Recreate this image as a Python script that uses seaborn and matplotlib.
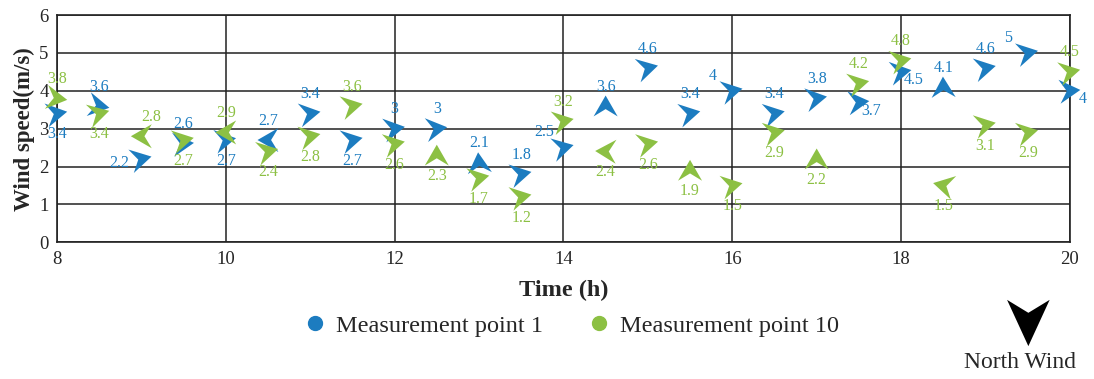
import numpy as np
import pandas as pd
import matplotlib
matplotlib.use("Agg")
import matplotlib.pyplot as plt
import seaborn as sns
from matplotlib.path import Path
from matplotlib.markers import MarkerStyle
from matplotlib.transforms import Affine2D
from matplotlib.lines import Line2D

# data
times = [8, 8.5, 9, 9.5, 10, 10.5, 11, 11.5, 12, 12.5, 13, 13.5, 14,
         14.5, 15, 15.5, 16, 16.5, 17, 17.5, 18, 18.5, 19, 19.5, 20]

p1_speed = [3.4, 3.6, 2.2, 2.6, 2.7, 2.7, 3.4, 2.7, 3.0, 3.0, 2.1, 1.8, 2.5,
            3.6, 4.6, 3.4, 4.0, 3.4, 3.8, 3.7, 4.5, 4.1, 4.6, 5.0, 4.0]
# direction the arrow points to, degrees counter-clockwise from east
p1_dir = [10, -10, 13, 5, 10, 180, 10, 12, 10, 8, 95, 12, 14,
          90, 14, 12, 12, 12, 10, 6, 10, 92, 12, 12, 5]

p10_speed = [3.8, 3.4, 2.8, 2.7, 2.9, 2.4, 2.8, 3.6, 2.6, 2.3, 1.7, 1.2, 3.2,
             2.4, 2.6, 1.9, 1.5, 2.9, 2.2, 4.2, 4.8, 1.5, 3.1, 2.9, 4.5]
p10_dir = [-8, 15, 180, 12, 180, 13, 12, 12, 12, 90, 12, 12, 12,
           178, 12, 90, 12, 12, 90, 12, 12, 167, 12, 12, 12]

series_names = ["Measurement point 1", "Measurement point 10"]

# where each value label sits relative to its arrow
p1_label_pos = ['b', 'a', 'l', 'a', 'b', 'a', 'a', 'b', 'a', 'a', 'a', 'a', 'al',
                'a', 'a', 'a', 'al', 'a', 'a', 'br', 'br', 'a', 'a', 'al', 'br']
p10_label_pos = ['a', 'b', 'ar', 'b', 'a', 'b', 'b', 'a', 'b', 'b', 'b', 'b', 'a',
                 'b', 'b', 'b', 'b', 'b', 'b', 'a', 'a', 'b', 'b', 'b', 'a']
offsets = {'a': (0, 14), 'b': (0, -15), 'l': (-16, -3), 'al': (-14, 11),
           'ar': (7, 14), 'br': (9, -6)}

blue = "#1c7cc0"
green = "#8cc043"

df = pd.concat([
    pd.DataFrame({"time": times, "speed": p1_speed, "dir": p1_dir, "series": series_names[0]}),
    pd.DataFrame({"time": times, "speed": p10_speed, "dir": p10_dir, "series": series_names[1]}),
], ignore_index=True)


def arrow_marker(angle, tip=10.0):
    verts = [(tip, 0), (-10, 11.5), (-3, 0), (-10, -11.5), (tip, 0)]
    codes = [Path.MOVETO, Path.LINETO, Path.LINETO, Path.LINETO, Path.CLOSEPOLY]
    return MarkerStyle(Path(verts, codes), transform=Affine2D().rotate_deg(angle))


sns.set_style("white")
plt.rcParams['font.family'] = ['Liberation Serif', 'DejaVu Serif']

fig = plt.figure(figsize=(10.94, 3.79), dpi=100)
ax = fig.add_axes([0.052, 0.361, 0.926, 0.599])

markers = {d: arrow_marker(d) for d in sorted(df["dir"].unique())}
sns.scatterplot(data=df, x="time", y="speed", hue="series", style="dir",
                markers=markers, palette=[blue, green], s=300,
                edgecolor="none", linewidth=0, legend=False, clip_on=False,
                zorder=3, ax=ax)

for speeds, pos, col in [(p1_speed, p1_label_pos, blue), (p10_speed, p10_label_pos, green)]:
    for t, v, p in zip(times, speeds, pos):
        ax.annotate(f"{v:g}", (t, v), xytext=offsets[p], textcoords="offset points",
                    ha="center", va="center", fontsize=11.5, color=col, zorder=4)

ax.set_xlim(8, 20)
ax.set_ylim(0, 6)
ax.set_xticks([8, 10, 12, 14, 16, 18, 20])
ax.set_yticks(range(0, 7))
ax.tick_params(length=0, labelsize=13.5, pad=6)
ax.grid(True, color="#222222", lw=1.1)
for sp in ax.spines.values():
    sp.set_color("#222222")
    sp.set_linewidth(1.2)
ax.set_xlabel("Time (h)", fontsize=17.5, fontweight="bold", labelpad=9)
ax.set_ylabel("Wind speed(m/s)", fontsize=16.5, fontweight="bold", labelpad=3)

handles = [Line2D([], [], marker='o', ls='', color=c, markersize=10) for c in (blue, green)]
fig.legend(handles, series_names, loc="center", bbox_to_anchor=(0.523, 0.14), ncol=2,
           frameon=False, fontsize=17.5, columnspacing=1.9, handlelength=0.8,
           handletextpad=0.45)

# north wind key
kax = fig.add_axes([0.895, 0.06, 0.09, 0.2])
kax.set_axis_off()
sns.scatterplot(x=[0], y=[0], marker=arrow_marker(-90, tip=15), s=1600,
                color="black", edgecolor="none", linewidth=0, ax=kax)
kax.set_xlim(-1, 1)
kax.set_ylim(-1, 1)
fig.text(1020 / 1094, 1 - 362 / 379, "North Wind", ha="center", va="center", fontsize=17)

fig.savefig("out.png", dpi=100)
